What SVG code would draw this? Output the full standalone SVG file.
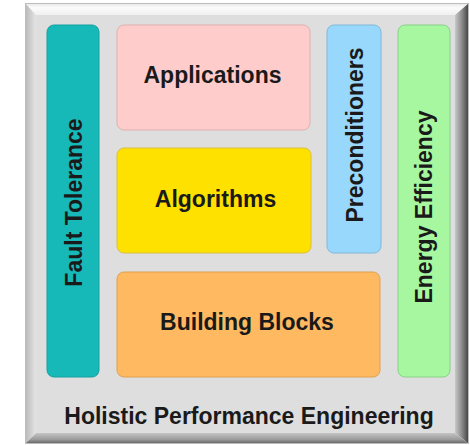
<svg xmlns="http://www.w3.org/2000/svg" width="470" height="445" viewBox="0 0 470 445">
  <defs>
    <linearGradient id="bevelTop" x1="0" y1="0" x2="0" y2="1">
      <stop offset="0" stop-color="#e6e6e6"/>
      <stop offset="0.4" stop-color="#fbfbfb"/>
      <stop offset="1" stop-color="#f0f0f0"/>
    </linearGradient>
    <linearGradient id="bevelLeft" x1="0" y1="0" x2="1" y2="0">
      <stop offset="0" stop-color="#b8b8b8"/>
      <stop offset="1" stop-color="#e4e4e4"/>
    </linearGradient>
    <linearGradient id="bevelRight" x1="0" y1="0" x2="1" y2="0">
      <stop offset="0" stop-color="#c8c8c8"/>
      <stop offset="0.5" stop-color="#8a8a8a"/>
      <stop offset="1" stop-color="#3c3c3c"/>
    </linearGradient>
    <linearGradient id="bevelBottom" x1="0" y1="0" x2="0" y2="1">
      <stop offset="0" stop-color="#c4c4c4"/>
      <stop offset="0.6" stop-color="#9a9a9a"/>
      <stop offset="1" stop-color="#5a5a5a"/>
    </linearGradient>
    <style>
      .box { stroke-width: 1; }
      .lbl { font-family: "Liberation Sans", Arial, sans-serif; font-weight: bold; font-size: 23px; fill: #1a1a1a; text-anchor: middle; }
    </style>
  </defs>

  <rect width="470" height="445" fill="#ffffff"/>

  <!-- bevelled frame -->
  <g id="frame">
    <polygon points="25,3 469,3 455,15 36,15" fill="url(#bevelTop)"/>
    <polygon points="25,3 36,15 36,433 25,444" fill="url(#bevelLeft)"/>
    <polygon points="469,3 469,444 455,433 455,15" fill="url(#bevelRight)"/>
    <polygon points="25,444 36,433 455,433 469,444" fill="url(#bevelBottom)"/>
    <rect x="36" y="15" width="419" height="418" fill="#dedede"/>
    <rect x="25.5" y="3.5" width="443" height="440" fill="none" stroke="#bdbdbd" stroke-width="1"/>
  </g>

  <g id="fault-tolerance">
    <rect class="box" x="47" y="25" width="52" height="352" rx="7" fill="#17b8b8" stroke="#12a0a0"/>
    <text class="lbl" transform="translate(82,202.5) rotate(-90)">Fault Tolerance</text>
  </g>

  <g id="applications">
    <rect class="box" x="117" y="25" width="193" height="105" rx="7" fill="#ffcccc" stroke="#e0b0b0"/>
    <text class="lbl" x="212.5" y="83">Applications</text>
  </g>

  <g id="algorithms">
    <rect class="box" x="117" y="148" width="194" height="105" rx="7" fill="#ffe100" stroke="#d8c040"/>
    <text class="lbl" x="215.5" y="207">Algorithms</text>
  </g>

  <g id="building-blocks">
    <rect class="box" x="117" y="272" width="263" height="105" rx="7" fill="#ffb961" stroke="#e0a050"/>
    <text class="lbl" x="247" y="330">Building Blocks</text>
  </g>

  <g id="preconditioners">
    <rect class="box" x="327" y="25" width="54" height="228" rx="7" fill="#99d8fd" stroke="#80b8d8"/>
    <text class="lbl" transform="translate(363,135) rotate(-90)">Preconditioners</text>
  </g>

  <g id="energy-efficiency">
    <rect class="box" x="398" y="25" width="52" height="352" rx="7" fill="#a6f7a0" stroke="#88d088"/>
    <text class="lbl" transform="translate(432,207) rotate(-90)">Energy Efficiency</text>
  </g>

  <g id="holistic-performance-engineering">
    <text class="lbl" x="249" y="424">Holistic Performance Engineering</text>
  </g>

  <g id="connectors"></g>
</svg>
